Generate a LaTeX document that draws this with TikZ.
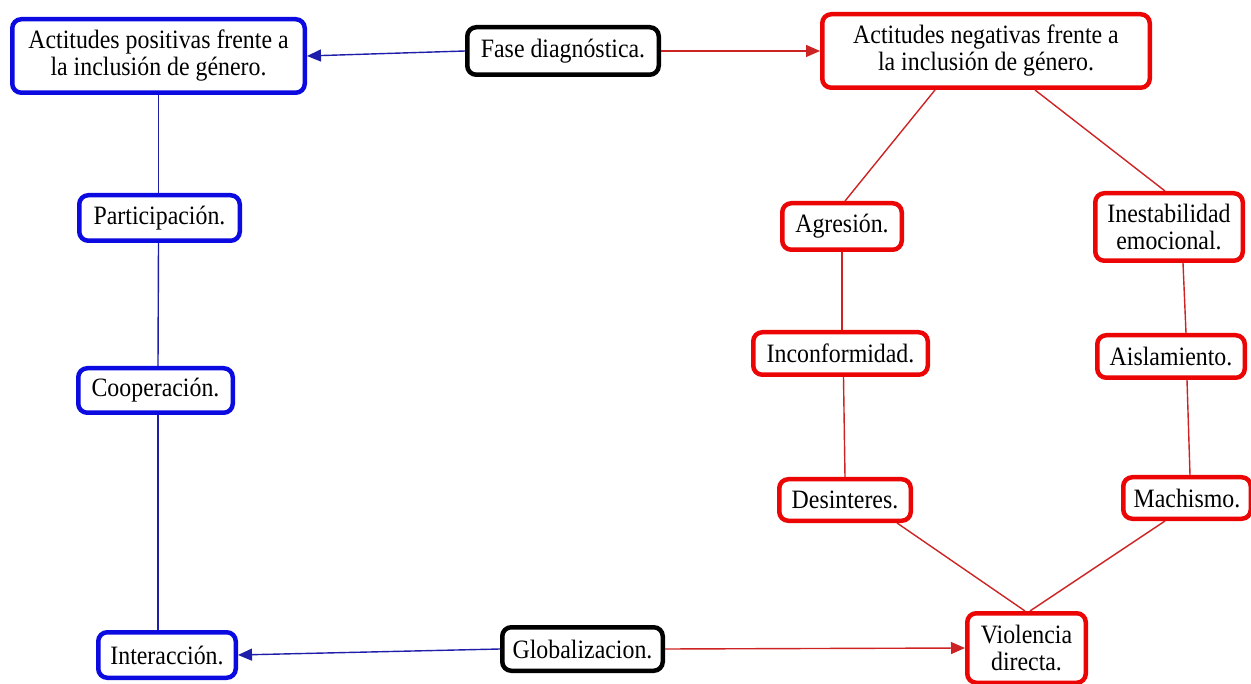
\documentclass[tikz,border=0pt]{standalone}
\usepackage{fontspec}
\setmainfont{Liberation Serif}[FakeStretch=0.9]
\usetikzlibrary{arrows.meta,calc}
\definecolor{bbord}{RGB}{10,10,225}
\definecolor{rbord}{RGB}{235,5,5}
\definecolor{bline}{RGB}{30,30,170}
\definecolor{rline}{RGB}{205,35,35}
\begin{document}
\begin{tikzpicture}[x=1pt,y=-1pt,
  box/.style={draw,rounded corners=9pt,line width=4.5pt,fill=white,align=center,
    inner sep=1pt,font=\fontsize{26.5}{27}\selectfont},
  bbox/.style={box,draw=bbord},
  rbox/.style={box,draw=rbord},
  kbox/.style={box,draw=black},
  bconn/.style={draw=bline,line width=1.4pt},
  rconn/.style={draw=rline,line width=1.4pt},
  barrow/.style={bconn,-{Triangle[length=14pt,width=12pt]}},
  rarrow/.style={rconn,-{Triangle[length=14pt,width=12pt]}}]
\useasboundingbox (0,0) rectangle (1251,684);
% nodes (size = outer size - line width)
\node[bbox,minimum width=292.5,minimum height=73.5] (pos) at (158.5,56) {Actitudes positivas frente a\\la inclusión de género.};
\node[kbox,minimum width=191.5,minimum height=47.5] (fase) at (563,51) {Fase diagnóstica.};
\node[rbox,minimum width=327.5,minimum height=73.5] (neg) at (986,51) {Actitudes negativas frente a\\la inclusión de género.};
\node[bbox,minimum width=160.5,minimum height=45.5] (part) at (159.5,218) {Participación.};
\node[bbox,minimum width=154.5,minimum height=44.5] (coop) at (155.5,390.5) {Cooperación.};
\node[bbox,minimum width=137.5,minimum height=45.5] (inter) at (167,655) {Interacción.};
\node[kbox,minimum width=160.5,minimum height=43.5] (glob) at (582.5,649) {Globalizacion.};
\node[rbox,minimum width=119.5,minimum height=46.5] (agr) at (842,226.5) {Agresión.};
\node[rbox,minimum width=147.5,minimum height=67.5] (inest) at (1169,227) {Inestabilidad\\emocional.};
\node[rbox,minimum width=174.5,minimum height=42.5] (incon) at (840.5,353.5) {Inconformidad.};
\node[rbox,minimum width=147.5,minimum height=42.5] (aisl) at (1171,356.5) {Aislamiento.};
\node[rbox,minimum width=131.5,minimum height=41.5] (des) at (845,500) {Desinteres.};
\node[rbox,minimum width=127.5,minimum height=41.5] (mach) at (1187,498) {Machismo.};
\node[rbox,minimum width=118.5,minimum height=69.5] (viol) at (1026.5,648) {Violencia\\directa.};
% connectors
\path[barrow] (fase.west) -- (pos.east);
\path[rarrow] (fase.east) -- (neg.west);
\path[barrow] (glob.west) -- (inter.east);
\path[rarrow] (glob.east) -- (viol.west);
\path[bconn] ($(pos.south)+(0,0)$) -- ($(part.north)+(-1,0)$);
\path[bconn] ($(part.south)+(-1,0)$) -- ($(coop.north)+(2.5,0)$);
\path[bconn] ($(coop.south)+(2.5,0)$) -- ($(inter.north)+(-9,0)$);
\path[rconn] ($(neg.south)+(-51,0)$) -- ($(agr.north)+(3,0)$);
\path[rconn] ($(neg.south)+(49,0)$) -- ($(inest.north)+(-4,0)$);
\path[rconn] (agr.south) -- ($(incon.north)+(1.5,0)$);
\path[rconn] ($(incon.south)+(3,0)$) -- (des.north);
\path[rconn] ($(inest.south)+(14,0)$) -- ($(aisl.north)+(15,0)$);
\path[rconn] ($(aisl.south)+(16,0)$) -- ($(mach.north)+(3,0)$);
\path[rconn] ($(des.south)+(52,0)$) -- ($(viol.north)+(-1.5,0)$);
\path[rconn] ($(mach.south)+(-22,0)$) -- ($(viol.north)+(3.5,0)$);
\end{tikzpicture}
\end{document}
